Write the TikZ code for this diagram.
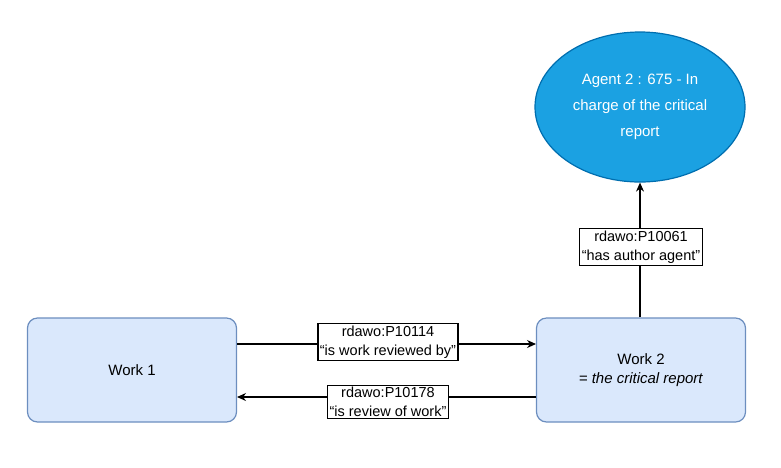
\documentclass[tikz,border=0pt]{standalone}
\usepackage{fontspec}
\setmainfont{Liberation Sans}
\usetikzlibrary{shapes.geometric, arrows.meta}
\definecolor{workfill}{HTML}{DAE8FC}
\definecolor{workline}{HTML}{6C8EBF}
\definecolor{agentfill}{HTML}{1BA1E2}
\definecolor{agentline}{HTML}{006EAF}
\tikzset{
  work node/.style={
    rounded corners=10pt,
    draw=workline,
    fill=workfill,
    align=center,
    minimum width=209pt,
    minimum height=104pt,
    font=\fontsize{15}{19}\selectfont,
  },
  label node/.style={
    draw,
    fill=white,
    align=center,
    inner sep=2pt,
    font=\fontsize{14.5}{19}\selectfont,
  },
}
\begin{document}
\begin{tikzpicture}[x=1pt, y=-1pt, line width=1.2pt, >={Stealth[length=9pt,width=8pt]}]
        \useasboundingbox (0,0) rectangle (781,467);
        \node[work node] (w1) at (132,370) {Work 1};
        \node[work node] (w2) at (641,370) {Work 2\\ \textit{= the critical report}};
        \node[ellipse, draw=agentline, fill=agentfill, text=white, align=center,
              minimum width=210pt, minimum height=150pt, inner sep=0pt,
              font=\fontsize{15}{26}\selectfont] (ag) at (640,107)
              {Agent 2 : 675 - In\\ charge of the critical\\ report};

        \coordinate (w1a) at (237,344);
        \coordinate (w2a) at (536,344);
        \coordinate (w1b) at (237,397);
        \coordinate (w2b) at (536,397);

        \draw[->] (w1a) to (w2a);
        \draw[->] (w2b) to (w1b);
        \draw[->] (w2.north -| ag) to (ag.south);

        \node[label node] (p1) at (388,342) {rdawo:P10114\\``is work reviewed by''};
        \node[label node] (p2) at (388,402) {rdawo:P10178\\``is review of work''};
        \node[label node] (p3) at (641,247) {rdawo:P10061\\``has author agent''};
      \end{tikzpicture}
\end{document}
